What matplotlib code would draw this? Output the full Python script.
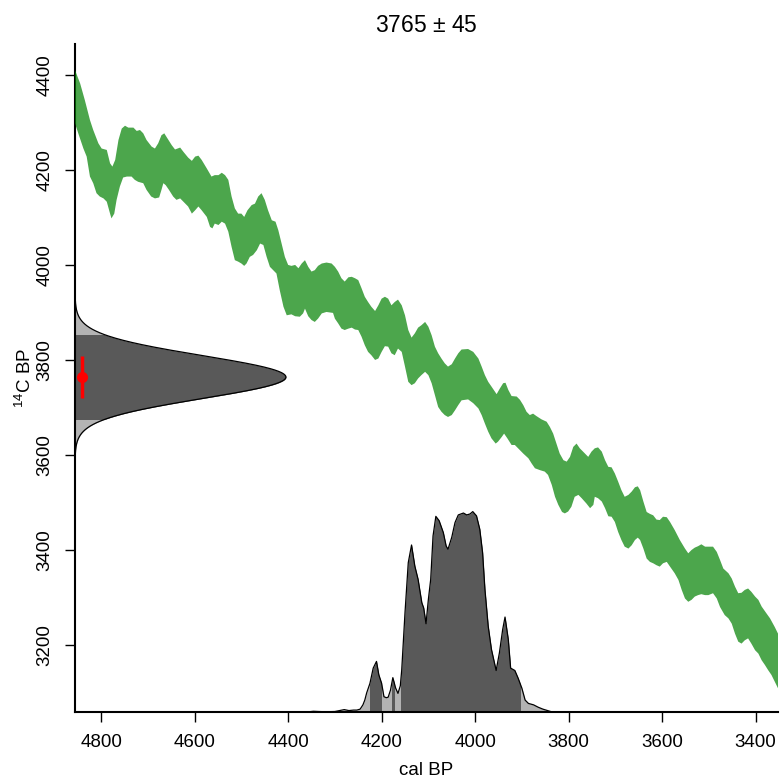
import numpy as np
import matplotlib
matplotlib.use("Agg")
import matplotlib.pyplot as plt
from matplotlib.patches import Rectangle

plt.rcParams['font.family'] = ['Liberation Sans', 'DejaVu Sans']
plt.rcParams['mathtext.fontset'] = 'custom'
plt.rcParams['mathtext.rm'] = 'Liberation Sans'
plt.rcParams['mathtext.it'] = 'Liberation Sans:italic'

# radiocarbon measurement
c14_age = 3765
c14_err = 45

# calibration curve band, upper edge (cal BP, 14C BP)
upper_cal = [4856, 4845, 4835, 4824, 4817, 4806, 4799, 4788, 4781, 4776, 4770, 4763, 4756, 4749,
             4742, 4731, 4724, 4717, 4710, 4703, 4692, 4685, 4678, 4671, 4665, 4658, 4649, 4642,
             4631, 4624, 4614, 4606, 4599, 4592, 4585, 4574, 4564, 4557, 4549, 4542, 4535, 4528,
             4521, 4514, 4507, 4500, 4494, 4487, 4478, 4471, 4464, 4457, 4450, 4443, 4435, 4427,
             4421, 4414, 4407, 4400, 4393, 4385, 4378, 4371, 4364, 4357, 4350, 4343, 4336, 4328,
             4318, 4307, 4300, 4293, 4286, 4279, 4271, 4264, 4257, 4250, 4243, 4236, 4229, 4222,
             4214, 4207, 4200, 4193, 4186, 4179, 4172, 4165, 4157, 4150, 4143, 4136, 4129, 4122,
             4115, 4107, 4100, 4093, 4086, 4079, 4072, 4065, 4058, 4050, 4043, 4036, 4029, 4015,
             4004, 3993, 3986, 3979, 3972, 3965, 3954, 3947, 3940, 3935, 3929, 3922, 3911, 3904,
             3897, 3890, 3883, 3876, 3869, 3858, 3847, 3840, 3833, 3826, 3819, 3811, 3804, 3797,
             3790, 3783, 3776, 3765, 3758, 3751, 3744, 3737, 3729, 3722, 3715, 3708, 3701, 3694,
             3687, 3680, 3672, 3665, 3658, 3652, 3647, 3640, 3633, 3626, 3619, 3612, 3605, 3598,
             3590, 3583, 3573, 3562, 3551, 3544, 3537, 3530, 3523, 3516, 3508, 3501, 3491, 3483,
             3476, 3469, 3458, 3451, 3444, 3437, 3430, 3423, 3416, 3409, 3401, 3394, 3387, 3377,
             3369, 3359, 3352]
upper_c14 = [4411, 4383, 4348, 4306, 4285, 4257, 4246, 4243, 4215, 4208, 4222, 4264, 4288, 4294,
             4290, 4290, 4283, 4285, 4278, 4264, 4250, 4246, 4257, 4274, 4278, 4267, 4253, 4244,
             4248, 4239, 4227, 4220, 4229, 4231, 4222, 4204, 4187, 4190, 4190, 4195, 4190, 4180,
             4145, 4120, 4109, 4109, 4102, 4116, 4127, 4130, 4145, 4152, 4138, 4116, 4095, 4092,
             4074, 4046, 4018, 4001, 3999, 4001, 3994, 4004, 4011, 3997, 3987, 3990, 3999, 4004,
             4006, 4004, 3997, 3987, 3973, 3966, 3975, 3976, 3973, 3969, 3952, 3934, 3923, 3913,
             3904, 3916, 3930, 3934, 3930, 3916, 3923, 3928, 3916, 3895, 3864, 3848, 3857, 3869,
             3874, 3881, 3871, 3853, 3829, 3815, 3804, 3794, 3787, 3792, 3804, 3815, 3823, 3824,
             3818, 3804, 3787, 3769, 3755, 3745, 3729, 3741, 3752, 3753, 3738, 3725, 3724, 3717,
             3706, 3692, 3685, 3688, 3683, 3676, 3671, 3660, 3646, 3625, 3604, 3590, 3587, 3597,
             3618, 3625, 3615, 3604, 3597, 3608, 3615, 3617, 3608, 3590, 3576, 3575, 3562, 3545,
             3527, 3513, 3517, 3524, 3533, 3535, 3527, 3503, 3481, 3477, 3474, 3465, 3464, 3471,
             3470, 3460, 3443, 3422, 3404, 3394, 3401, 3406, 3409, 3413, 3408, 3408, 3408, 3397,
             3380, 3362, 3352, 3341, 3324, 3310, 3311, 3317, 3320, 3313, 3303, 3296, 3282, 3268,
             3257, 3239, 3225]

# calibration curve band, lower edge (cal BP, 14C BP)
lower_cal = [4856, 4849, 4838, 4831, 4824, 4817, 4810, 4803, 4795, 4788, 4781, 4778, 4772, 4767,
             4760, 4753, 4745, 4735, 4728, 4721, 4710, 4703, 4693, 4685, 4676, 4671, 4667, 4662,
             4655, 4646, 4639, 4631, 4624, 4614, 4606, 4599, 4592, 4585, 4574, 4567, 4562, 4557,
             4549, 4542, 4535, 4528, 4521, 4514, 4507, 4500, 4494, 4489, 4482, 4475, 4467, 4460,
             4453, 4446, 4439, 4432, 4425, 4418, 4410, 4403, 4393, 4385, 4375, 4368, 4364, 4357,
             4350, 4343, 4336, 4328, 4318, 4304, 4300, 4293, 4286, 4279, 4271, 4264, 4257, 4250,
             4243, 4236, 4229, 4222, 4214, 4207, 4200, 4193, 4186, 4179, 4172, 4165, 4157, 4150,
             4143, 4136, 4129, 4122, 4115, 4107, 4100, 4093, 4086, 4079, 4072, 4065, 4058, 4050,
             4043, 4036, 4029, 4015, 4004, 3993, 3986, 3979, 3972, 3965, 3956, 3951, 3943, 3938,
             3931, 3922, 3915, 3908, 3897, 3886, 3879, 3872, 3861, 3851, 3844, 3836, 3829, 3822,
             3814, 3808, 3801, 3794, 3787, 3779, 3772, 3762, 3754, 3747, 3744, 3737, 3729, 3722,
             3715, 3708, 3701, 3694, 3687, 3680, 3672, 3665, 3658, 3652, 3647, 3640, 3633, 3626,
             3619, 3612, 3605, 3598, 3590, 3583, 3573, 3565, 3558, 3551, 3544, 3537, 3530, 3523,
             3516, 3508, 3501, 3491, 3483, 3476, 3466, 3458, 3451, 3444, 3437, 3430, 3423, 3416,
             3409, 3401, 3394, 3387, 3380, 3373, 3366, 3359, 3352]
lower_c14 = [4299, 4278, 4246, 4229, 4187, 4173, 4152, 4145, 4141, 4134, 4109, 4099, 4109, 4138,
             4166, 4185, 4187, 4187, 4180, 4176, 4173, 4159, 4145, 4141, 4143, 4159, 4173, 4169,
             4159, 4145, 4138, 4141, 4134, 4124, 4109, 4116, 4124, 4116, 4102, 4081, 4078, 4088,
             4085, 4092, 4088, 4071, 4039, 4011, 4008, 4004, 3999, 4004, 4018, 4022, 4032, 4046,
             4043, 4018, 3997, 3990, 3983, 3948, 3913, 3895, 3897, 3893, 3892, 3899, 3909, 3893,
             3885, 3881, 3888, 3899, 3902, 3900, 3888, 3878, 3867, 3864, 3867, 3869, 3865, 3864,
             3850, 3832, 3818, 3811, 3801, 3804, 3818, 3830, 3829, 3815, 3811, 3825, 3818, 3787,
             3755, 3748, 3752, 3762, 3769, 3776, 3769, 3752, 3727, 3702, 3692, 3685, 3681, 3685,
             3695, 3706, 3716, 3718, 3710, 3699, 3685, 3667, 3650, 3636, 3625, 3629, 3639, 3646,
             3636, 3622, 3622, 3615, 3604, 3594, 3583, 3573, 3569, 3566, 3559, 3538, 3513, 3496,
             3481, 3478, 3482, 3492, 3513, 3517, 3510, 3499, 3489, 3496, 3513, 3510, 3503, 3489,
             3472, 3471, 3460, 3439, 3422, 3408, 3404, 3411, 3422, 3427, 3422, 3404, 3383, 3376,
             3373, 3369, 3366, 3373, 3376, 3366, 3352, 3338, 3317, 3299, 3292, 3296, 3303, 3306,
             3308, 3306, 3306, 3310, 3299, 3281, 3264, 3257, 3246, 3225, 3208, 3204, 3211, 3215,
             3204, 3190, 3183, 3169, 3159, 3148, 3138, 3124, 3110]

# calibrated probability distribution (cal BP, relative probability)
dist_cal = [4360, 4346, 4335, 4320, 4300, 4290, 4280, 4270, 4260, 4253, 4246, 4240, 4236, 4232,
            4225, 4218, 4211, 4206, 4200, 4195, 4190, 4186, 4181, 4176, 4170, 4165, 4160, 4157,
            4150, 4143, 4136, 4129, 4122, 4114, 4110, 4105, 4100, 4095, 4090, 4084, 4077, 4068,
            4062, 4058, 4050, 4043, 4036, 4025, 4018, 4011, 4005, 3997, 3990, 3984, 3979, 3972,
            3965, 3955, 3948, 3941, 3936, 3929, 3924, 3915, 3908, 3900, 3893, 3886, 3875, 3865,
            3855, 3845, 3835]
dist_prob = [0, 1.5, 1, 0.5, 1, 3, 5, 3, 4, 4, 6, 15, 25, 40,
             60, 92, 106, 78, 60, 32, 30, 31, 46, 72, 50, 39, 55, 88,
             208, 313, 350, 306, 278, 229, 218, 185, 236, 278, 369, 410, 401, 376,
             348, 341, 366, 397, 413, 417, 413, 415, 420, 411, 383, 334, 257, 180,
             131, 87, 124, 173, 199, 152, 92, 87, 71, 50, 25, 18, 15, 10,
             6, 3, 0]

# 95% highest posterior density ranges (cal BP)
hpd_from = [4225, 4177, 4158]
hpd_to = [4201, 4174, 3905]

x_ticks = [4800, 4600, 4400, 4200, 4000, 3800, 3600, 3400]
y_ticks = [3200, 3400, 3600, 3800, 4000, 4200, 4400]

xlim = (4856, 3352)
ylim = (3060, 4466)

dark = '#595959'
light = '#B3B3B3'
green = (0, 0.5, 0)

fig = plt.figure(figsize=(7.8, 7.83), dpi=100)
ax = fig.add_axes([75 / 780, (783 - 712) / 783, (778 - 75) / 780, (712 - 44) / 783])
ax.set_xlim(*xlim)
ax.set_ylim(*ylim)

# measurement as a normal curve along the left axis
g_y = np.linspace(c14_age - 4 * c14_err, c14_age + 4 * c14_err, 400)
g_d = np.exp(-0.5 * ((g_y - c14_age) / c14_err) ** 2)
g_x = xlim[0] - g_d / g_d.max() * 0.3 * (xlim[0] - xlim[1])
ax.fill_betweenx(g_y, xlim[0], g_x, color=light, lw=0, zorder=2)
gdark = ax.fill_betweenx(g_y, xlim[0], g_x, color=dark, lw=0, zorder=2.1)
clip = Rectangle((xlim[0], c14_age - 1.96 * c14_err), -(xlim[0] - xlim[1]), 2 * 1.96 * c14_err,
                 transform=ax.transData)
gdark.set_clip_path(clip)
ax.plot(g_x, g_y, color='black', lw=0.9, zorder=2.2)

# calibrated distribution along the bottom axis
d_cal = np.array(dist_cal)
d_p = np.array(dist_prob)
d_y = ylim[0] + d_p / d_p.max() * 0.3 * (ylim[1] - ylim[0])
ax.fill_between(d_cal, ylim[0], d_y, color=light, lw=0, zorder=2)
for a, b in zip(hpd_from, hpd_to):
    part = ax.fill_between(d_cal, ylim[0], d_y, color=dark, lw=0, zorder=2.1)
    part.set_clip_path(Rectangle((b, ylim[0]), a - b, ylim[1] - ylim[0], transform=ax.transData))
ax.plot(d_cal, d_y, color='black', lw=0.9, zorder=2.2)

# calibration curve
ax.fill(np.r_[upper_cal, lower_cal[::-1]], np.r_[upper_c14, lower_c14[::-1]],
        color=green, alpha=0.7, lw=0, zorder=3)

# measured age with 1 sigma error
ax.errorbar([4840], [c14_age], yerr=[c14_err], fmt='o', color='red', ms=7, elinewidth=2.5,
            capsize=0, zorder=4)

for side in ['top', 'right']:
    ax.spines[side].set_visible(False)
for side in ['left', 'bottom']:
    ax.spines[side].set_linewidth(1.5)
ax.set_xticks(x_ticks)
ax.set_yticks(y_ticks)
ax.tick_params(direction='out', length=7.5, width=1, labelsize=13.5, pad=8)
for lab in ax.get_yticklabels():
    lab.set_rotation(90)
    lab.set_va('center')

ax.set_xlabel('cal BP', fontsize=13.5, labelpad=8)
ax.set_ylabel(r'$^{14}$C BP', fontsize=13.5, labelpad=1)
ax.set_title(r'3765 $\pm$ 45', fontsize=16.5, pad=9)

fig.savefig('out.png', dpi=100)
